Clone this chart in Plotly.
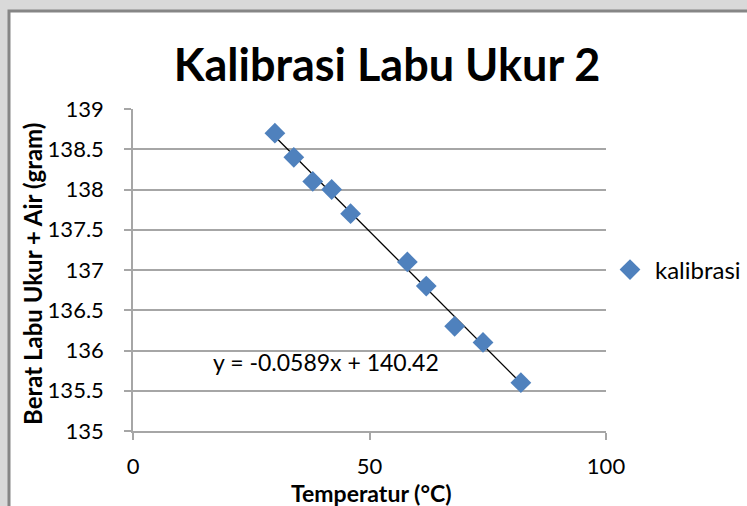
import numpy as np
import plotly.graph_objects as go

# Data
temperatur = [30, 34, 38, 42, 46, 58, 62, 68, 74, 82]
berat = [138.7, 138.4, 138.1, 138.0, 137.7, 137.1, 136.8, 136.3, 136.1, 135.6]
series_name = "kalibrasi"
chart_title = "Kalibrasi Labu Ukur 2"
x_title = "Temperatur (°C)"
y_title = "Berat Labu Ukur + Air (gram)"
equation_text = "y = -0.0589x + 140.42"
x_ticks = [0, 50, 100]
y_ticks = [135, 135.5, 136, 136.5, 137, 137.5, 138, 138.5, 139]

slope, intercept = np.polyfit(temperatur, berat, 1)
trend_x = [min(temperatur), max(temperatur)]
trend_y = [slope * v + intercept for v in trend_x]

FONT = "Lato"
W, H = 747, 506
L, R, T, B = 133, 141, 109, 75
pw, ph = W - L - R, H - T - B

def px(xp):
    return (xp - L) / pw

def py(yp):
    return (H - B - yp) / ph

fig = go.Figure()
fig.add_trace(go.Scatter(
    x=trend_x, y=trend_y, mode="lines",
    line=dict(color="black", width=1.3),
    showlegend=False, hoverinfo="skip"))
fig.add_trace(go.Scatter(
    x=temperatur, y=berat, mode="markers", name=series_name,
    marker=dict(symbol="diamond", size=16, color="#4f81bd",
                line=dict(width=0))))

fig.add_annotation(x=40.8, y=135.857, xref="x", yref="y",
                   text=equation_text, showarrow=False,
                   font=dict(family=FONT, size=23, color="black"))

# axis titles
fig.add_annotation(x=px(371), y=py(493), xref="paper", yref="paper",
                   text="<b>" + x_title + "</b>", showarrow=False,
                   xanchor="center", yanchor="middle",
                   font=dict(family=FONT, size=23, color="black"))
fig.add_annotation(x=px(32), y=py(274), xref="paper", yref="paper",
                   text="<b>" + y_title + "</b>", showarrow=False, textangle=-90,
                   xanchor="center", yanchor="middle",
                   font=dict(family=FONT, size=24, color="black"))

fig.update_layout(
    width=W, height=H,
    margin=dict(l=L, r=R, t=T, b=B, autoexpand=False),
    paper_bgcolor="#d9d9d9",
    plot_bgcolor="rgba(0,0,0,0)",
    title=dict(text="<b>" + chart_title + "</b>", x=387 / W,
               xanchor="center", y=1 - 65 / H, yanchor="middle",
               font=dict(family=FONT, size=45, color="black")),
    font=dict(family=FONT, color="black"),
    legend=dict(x=px(605), y=py(270), xanchor="left", yanchor="middle",
                xref="paper", yref="paper",
                font=dict(family=FONT, size=24, color="black"),
                bgcolor="rgba(0,0,0,0)", itemwidth=40),
    showlegend=True,
    shapes=[dict(type="rect", xref="paper", yref="paper", layer="below",
                 x0=px(9), x1=px(900), y0=py(700), y1=py(11),
                 fillcolor="white", line=dict(color="#868686", width=3))],
)

fig.update_xaxes(
    range=[0, 100], tickvals=x_ticks, ticktext=[str(v) for v in x_ticks],
    showgrid=False, zeroline=False,
    showline=True, linecolor="#a6a6a6", linewidth=1.5,
    ticks="outside", ticklen=7, tickcolor="#a6a6a6", tickwidth=1.5,
    ticklabelstandoff=8,
    tickfont=dict(family=FONT, size=22, color="black"))

fig.update_yaxes(
    range=[135, 139], tickvals=y_ticks,
    ticktext=[("%g" % v) for v in y_ticks],
    showgrid=True, gridcolor="#a6a6a6", gridwidth=1.5, zeroline=False,
    showline=True, linecolor="#a6a6a6", linewidth=1.5,
    ticks="outside", ticklen=7, tickcolor="#a6a6a6", tickwidth=1.5,
    ticklabelstandoff=16,
    tickfont=dict(family=FONT, size=22, color="black"))

fig.write_html(
    "out.html",
    config={"displayModeBar": False},
    post_script="document.body.style.margin='0';"
                "document.body.style.background='#d9d9d9';",
)
